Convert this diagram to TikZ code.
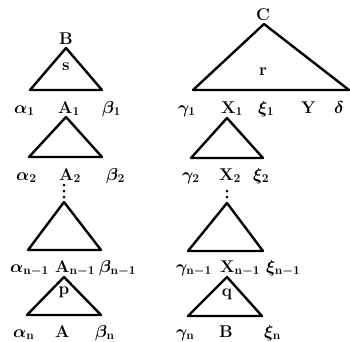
\documentclass[tikz,border=0pt]{standalone}
\usepackage{bm}
\begin{document}
\begin{tikzpicture}[x=1pt,y=-1pt,
  tri/.style={line width=2.4pt,line join=round},
  lab/.style={inner sep=0pt,anchor=base west,font=\fontsize{17}{19}\selectfont\bfseries\boldmath},
  mid/.style={inner sep=0pt,font=\fontsize{17}{19}\selectfont\bfseries\boldmath},
  dotc/.style={fill,circle,inner sep=0pt,minimum size=3pt}]
\useasboundingbox (0,0) rectangle (350,341);
% ---------- left column ----------
\node[mid,anchor=base] (B1) at (66,44) {B};
\coordinate (l1a) at (66,48); \coordinate (l1l) at (30,90); \coordinate (l1r) at (102,90);
\draw[tri] (l1a) -- (l1l) -- (l1r) -- cycle;
\node[mid] (s) at (66,67) {s};
\node[lab] (a1) at (14,113) {$\bm{\alpha}_{\mathbf{1}}$};
\node[lab] (A1) at (58,113) {A$_{\mathbf{1}}$};
\node[lab] (b1) at (102,113) {$\bm{\beta}_{\mathbf{1}}$};
\coordinate (l2a) at (66,117); \coordinate (l2l) at (29,157); \coordinate (l2r) at (102,157);
\draw[tri] (l2a) -- (l2l) -- (l2r) -- cycle;
\node[lab] (a2) at (16,180) {$\bm{\alpha}_{\mathbf{2}}$};
\node[lab] (A2) at (59,180) {A$_{\mathbf{2}}$};
\node[lab] (b2) at (106,180) {$\bm{\beta}_{\mathbf{2}}$};
\node[dotc] (ld1) at (64,185) {};
\node[dotc] (ld2) at (64,191) {};
\node[dotc] (ld3) at (64,197) {};
\coordinate (l3a) at (64,202); \coordinate (l3l) at (28,250); \coordinate (l3r) at (101,250);
\draw[tri] (l3a) -- (l3l) -- (l3r) -- cycle;
\node[lab] (a3) at (10,272) {$\bm{\alpha}_{\mathbf{n-1}}$};
\node[lab] (A3) at (55,272) {A$_{\mathbf{n-1}}$};
\node[lab] (b3) at (99,272) {$\bm{\beta}_{\mathbf{n-1}}$};
\coordinate (l4a) at (64,277); \coordinate (l4l) at (27,315); \coordinate (l4r) at (101,315);
\draw[tri] (l4a) -- (l4l) -- (l4r) -- cycle;
\node[mid] (p) at (64,292) {p};
\node[lab] (a4) at (13,337) {$\bm{\alpha}_{\mathbf{n}}$};
\node[lab] (A4) at (55,337) {A};
\node[lab] (b4) at (95,337) {$\bm{\beta}_{\mathbf{n}}$};
% ---------- right column ----------
\node[mid,anchor=base] (C1) at (263,20) {C};
\coordinate (r1a) at (264,24); \coordinate (r1l) at (193,90); \coordinate (r1r) at (349,90);
\draw[tri] (r1a) -- (r1l) -- (r1r) -- cycle;
\node[mid] (r) at (263,72) {r};
\node[lab] (g1) at (178,113) {$\bm{\gamma}_{\mathbf{1}}$};
\node[lab] (X1) at (221,113) {X$_{\mathbf{1}}$};
\node[lab] (x1) at (258,113) {$\bm{\xi}_{\mathbf{1}}$};
\node[lab] (Y) at (301,113) {Y};
\node[lab] (d) at (334,113) {$\bm{\delta}$};
\coordinate (r2a) at (227,118); \coordinate (r2l) at (191,158); \coordinate (r2r) at (263,158);
\draw[tri] (r2a) -- (r2l) -- (r2r) -- cycle;
\node[lab] (g2) at (182,180) {$\bm{\gamma}_{\mathbf{2}}$};
\node[lab] (X2) at (219,180) {X$_{\mathbf{2}}$};
\node[lab] (x2) at (253,180) {$\bm{\xi}_{\mathbf{2}}$};
\node[dotc] (rd1) at (227,191) {};
\node[dotc] (rd2) at (227,197) {};
\coordinate (r3a) at (227,203); \coordinate (r3l) at (188,251); \coordinate (r3r) at (263,251);
\draw[tri] (r3a) -- (r3l) -- (r3r) -- cycle;
\node[lab] (g3) at (176,272) {$\bm{\gamma}_{\mathbf{n-1}}$};
\node[lab] (X3) at (220,272) {X$_{\mathbf{n-1}}$};
\node[lab] (x3) at (266,272) {$\bm{\xi}_{\mathbf{n-1}}$};
\coordinate (r4a) at (227,277); \coordinate (r4l) at (188,316); \coordinate (r4r) at (262,316);
\draw[tri] (r4a) -- (r4l) -- (r4r) -- cycle;
\node[mid] (q) at (227,294) {q};
\node[lab] (g4) at (176,337) {$\bm{\gamma}_{\mathbf{n}}$};
\node[lab] (B4) at (219,337) {B};
\node[lab] (x4) at (264,337) {$\bm{\xi}_{\mathbf{n}}$};
\end{tikzpicture}
\end{document}
